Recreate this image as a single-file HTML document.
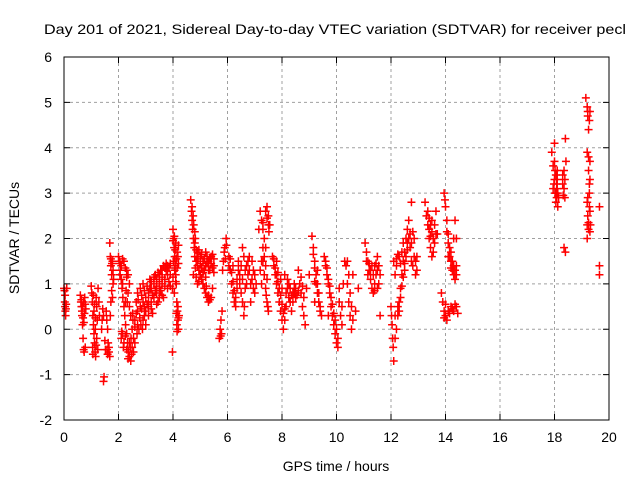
<!DOCTYPE html>
<html><head><meta charset="utf-8"><style>
html,body{margin:0;padding:0;background:#fff;}
svg{display:block;font-family:"Liberation Sans",sans-serif;}
</style></head><body>
<svg id="chart" width="640" height="480" viewBox="0 0 640 480" xmlns="http://www.w3.org/2000/svg">
<text x="44" y="34" font-size="14" fill="#000" textLength="582" lengthAdjust="spacingAndGlyphs">Day 201 of 2021, Sidereal Day-to-day VTEC variation (SDTVAR) for receiver pecl</text>
<g id="grid"></g>
<g id="ticks"></g>
<g id="marks"></g>
<rect x="64" y="57" width="545" height="363" fill="none" stroke="#000" stroke-width="1"/>
<text x="336" y="471" font-size="14" text-anchor="middle">GPS time / hours</text>
<text x="0" y="0" font-size="14" text-anchor="middle" transform="translate(19,238) rotate(-90)">SDTVAR / TECUs</text>
</svg>
<script>
const xTicks = [0,2,4,6,8,10,12,14,16,18,20];
const yTicks = [-2,-1,0,1,2,3,4,5,6];
const segA = [[0,0.9],[0.02,0.85],[0.03,0.6],[0.04,0.5],[0.05,0.4],[0.06,0.3],[0.08,0.55],[0.1,0.9],[0.04,0.75],[0.07,0.45]];
const segB = [[0.6,0.75],[0.62,0.6],[0.64,0.5],[0.66,0.3],[0.68,0.1],[0.7,-0.2],[0.72,-0.45],[0.74,-0.5],[0.76,0.7],[0.78,0.55],[0.8,0.45],[0.7,0.25],[0.66,0.4],[0.64,0.65],[0.72,0.6],[0.75,0.35],[0.68,0.5],[0.78,-0.4],[0.73,0.15]];
const segC = [[1.0,0.95],[1.02,0.8],[1.04,0.6],[1.06,0.3],[1.08,0.1],[1.1,-0.1],[1.12,-0.3],[1.14,-0.5],[1.16,-0.6],[1.2,0.5],[1.22,0.2],[1.25,0.9],[1.1,0.4],[1.15,0.0],[1.05,-0.4],[1.18,0.7],[1.28,0.6],[1.3,0.3],[1.08,0.75],[1.12,0.55],[1.15,0.25],[1.2,-0.2],[1.24,-0.45],[1.06,-0.55],[1.18,-0.35]];
const segD = [[1.45,-1.15],[1.47,-1.05],[1.4,0.2],[1.42,0.45],[1.38,0.0],[1.45,0.3],[1.5,-0.25],[1.52,-0.45]];
const segE = [[1.55,0.4],[1.57,0.2],[1.6,0.0],[1.62,-0.3],[1.65,-0.5],[1.68,-0.6],[1.7,0.3],[1.72,0.6],[1.68,1.9],[1.7,1.6],[1.72,1.4],[1.75,1.2],[1.78,1.5],[1.8,1.3],[1.82,1.1],[1.58,-0.45],[1.75,0.85],[1.72,1.55],[1.76,1.45],[1.8,1.0],[1.78,0.7],[1.65,-0.4],[1.6,-0.55]];
const segF = [[2.0,1.6],[2.03,1.5],[2.06,1.3],[2.1,1.1],[2.13,0.9],[2.16,0.7],[2.2,0.5],[2.23,0.3],[2.26,0.1],[2.3,-0.1],[2.33,-0.3],[2.36,-0.5],[2.4,-0.6],[2.43,-0.4],[2.46,-0.2],[2.5,0.0],[2.53,0.2],[2.1,1.4],[2.2,1.5],[2.3,1.3],[2.35,0.8],[2.25,0.6],[2.15,-0.1],[2.2,-0.3],[2.45,-0.7],[2.55,-0.5],[2.6,-0.3],[2.1,-0.2],
  [2.05,1.45],[2.15,1.55],[2.25,1.35],[2.3,1.15],[2.4,1.0],[2.35,1.2],[2.05,1.2],[2.15,1.0],[2.28,0.85],[2.32,0.6],[2.4,0.5],[2.45,0.3],[2.25,-0.15],[2.3,-0.45],[2.35,-0.65],[2.4,-0.3],[2.5,-0.4],[2.55,-0.2],[2.48,-0.55],[2.12,-0.05],[2.18,-0.4],[2.6,0.05],[2.52,0.35]];
const segG = [[2.6,0.2],[2.7,0.4],[2.8,0.5],[2.9,0.6],[3.0,0.7],[3.1,0.8],[3.2,0.9],[3.3,1.0],[3.4,1.1],[3.5,1.2],[3.6,1.3],[3.7,1.35],[3.8,1.4],[3.9,1.45],[2.7,0.8],[2.8,0.9],[2.9,1.0],[3.0,0.4],[3.1,0.3],[3.2,0.6],[3.3,0.7],[3.4,0.8],[3.5,0.9],[3.6,1.0],[3.7,1.1],[3.8,0.9],[3.9,1.2],[2.9,0.2],[3.0,0.1],[2.75,0.0],[3.15,1.1],[3.45,0.6],[3.65,0.7],[3.75,1.3],[2.65,0.6],[3.25,0.35],
  [2.65,0.35],[2.72,0.65],[2.78,0.25],[2.85,0.75],[2.85,0.45],[2.95,0.85],[2.95,0.5],[3.05,0.95],[3.05,0.55],[3.1,0.6],[3.15,0.9],[3.2,1.05],[3.25,0.75],[3.3,1.15],[3.35,0.85],[3.35,1.2],[3.4,0.95],[3.45,1.25],[3.5,1.05],[3.55,1.3],[3.55,0.85],[3.6,1.15],[3.65,1.4],[3.7,0.95],[3.75,1.45],[3.8,1.2],[3.85,1.35],[3.85,1.05],[3.9,0.95],[3.6,0.75],[3.5,0.7],[3.4,0.55],[3.2,0.45],[3.1,0.5],[2.95,0.3],[2.82,0.1],[2.7,0.1],[2.88,0.0],[2.68,-0.1]];
const segH = [[4.0,2.2],[4.02,2.0],[4.04,1.8],[4.06,1.6],[4.08,1.4],[4.1,1.2],[4.12,1.0],[4.14,0.6],[4.16,0.4],[4.18,0.2],[4.2,0.0],[3.98,-0.5],[4.1,1.9],[4.15,1.7],[4.2,1.85],[4.22,0.3],[4.05,0.8],
  [4.0,1.95],[4.05,2.05],[4.08,1.75],[4.12,1.55],[4.15,1.35],[4.18,1.6],[4.2,1.45],[4.02,1.5],[4.06,1.3],[4.1,1.05],[4.14,0.1],[4.18,0.5],[4.2,0.25],[4.15,-0.05],[4.12,0.35],[3.98,0.9],[4.0,1.15]];
const segI = [[4.65,2.85],[4.68,2.6],[4.7,2.4],[4.72,2.2],[4.75,2.0],[4.78,1.8],[4.8,1.6],[4.85,1.5],[4.9,1.4],[4.95,1.3],[5.0,1.2],[5.05,1.1],[5.1,1.0],[5.15,0.9],[5.2,0.8],[5.25,0.7],[5.3,0.6],[4.8,1.9],[4.9,1.7],[5.0,1.6],[5.1,1.5],[5.2,1.4],[5.3,1.5],[5.4,1.6],[5.5,1.4],[5.35,1.3],[4.75,1.2],[4.9,1.0],[5.2,1.7],[5.45,0.9],[5.4,0.7],
  [4.7,2.7],[4.74,2.5],[4.76,2.3],[4.8,2.15],[4.82,2.0],[4.85,1.75],[4.88,1.6],[4.92,1.55],[4.95,1.75],[5.0,1.45],[5.05,1.65],[5.05,1.35],[5.1,1.25],[5.15,1.55],[5.15,1.3],[5.2,1.15],[5.25,1.45],[5.25,1.6],[5.3,1.3],[5.35,1.55],[5.4,1.45],[5.45,1.65],[5.5,1.55],[5.5,1.25],[5.45,1.35],[4.82,1.35],[4.85,1.15],[4.95,1.05],[5.3,0.75],[5.35,0.65],[5.22,0.95]];
const segJ = [[5.7,-0.2],[5.73,0.0],[5.76,0.2],[5.8,0.4],[5.85,1.5],[5.9,1.8],[5.95,2.0],[5.88,1.7],[5.82,1.3],[5.78,-0.1],[5.75,-0.15],[5.92,1.55],[5.96,1.85]];
const segK = [[6.05,1.6],[6.1,1.3],[6.15,1.0],[6.2,0.8],[6.25,0.6],[6.3,0.5],[6.4,1.5],[6.45,1.2],[6.5,0.8],[6.55,1.8],[6.6,0.3],[6.65,0.9],[6.7,1.4],[6.8,1.6],[6.9,1.1],[7.0,0.8],[6.35,0.9],[6.75,1.2],[6.95,1.3],[6.2,1.4],[6.85,0.6],
  [6.05,1.4],[6.1,1.55],[6.15,1.25],[6.2,1.05],[6.25,0.85],[6.3,0.7],[6.35,1.1],[6.4,1.3],[6.45,1.0],[6.5,1.4],[6.55,1.1],[6.6,1.6],[6.65,1.3],[6.7,1.0],[6.75,1.5],[6.8,1.3],[6.85,1.0],[6.9,1.5],[6.95,0.9],[7.0,1.2],[7.05,1.0],[6.55,0.6],[6.62,0.5]];
const segL = [[7.2,2.6],[7.25,2.4],[7.3,2.2],[7.35,2.0],[7.4,1.8],[7.3,1.5],[7.35,1.2],[7.4,0.9],[7.45,0.6],[7.5,0.4],[7.45,2.7],[7.5,2.5],[7.55,2.3],[7.25,1.0],[7.15,2.2],
  [7.4,2.6],[7.45,2.45],[7.5,2.3],[7.52,2.15],[7.3,2.35],[7.35,1.6],[7.4,1.4],[7.45,1.1],[7.42,0.75],[7.48,0.5],[7.3,1.8],[7.2,1.3],[7.25,1.5]];
const segM = [[7.65,1.6],[7.7,1.4],[7.75,1.2],[7.8,1.0],[7.85,0.8],[7.9,0.6],[7.95,0.4],[8.0,0.2],[8.05,0.0],[8.1,1.2],[8.2,0.9],[8.3,0.6],[8.4,0.8],[8.5,0.7],[7.8,1.5],[7.95,1.1],[8.15,0.5],[8.25,1.0],[8.35,0.4],[8.45,1.0],
  [7.7,1.55],[7.75,1.35],[7.8,1.2],[7.85,1.05],[7.9,0.9],[7.95,0.75],[8.0,0.55],[8.05,0.35],[8.1,0.2],[8.15,0.8],[8.2,1.1],[8.25,0.7],[8.3,0.9],[8.35,0.75],[8.4,0.6],[8.45,0.8],[8.5,0.9],[8.55,0.75],[8.6,0.85],[8.0,0.9],[7.85,1.25],[8.1,0.45]];
const segN = [[8.6,1.3],[8.65,1.0],[8.7,0.8],[8.75,0.5],[8.8,0.3],[8.85,0.1],[9.1,2.05],[9.15,1.8],[9.2,1.5],[9.25,1.2],[9.3,1.0],[9.35,0.8],[9.4,0.5],[9.45,0.3],[8.9,0.9],[9.0,1.2],[9.2,0.6],
  [8.7,1.15],[8.75,0.95],[8.8,0.7],[9.15,1.65],[9.2,1.35],[9.25,1.0],[9.3,0.8],[9.35,0.6],[9.4,0.4],[9.3,1.3],[9.2,1.05]];
const segO = [[9.55,1.6],[9.6,1.4],[9.65,1.2],[9.7,1.0],[9.75,0.8],[9.8,0.5],[9.85,0.3],[9.9,0.1],[9.95,-0.1],[10.0,-0.3],[10.05,-0.4],[10.3,1.5],[10.35,1.4],[10.4,1.0],[10.45,0.6],[10.5,0.3],[10.55,0.0],[10.6,1.2],[10.7,0.4],[10.1,0.9],[10.2,0.5],[9.7,0.3],[10.25,1.0],[10.8,0.9],
  [9.6,1.5],[9.65,1.35],[9.7,1.1],[9.75,0.95],[9.8,0.7],[9.85,0.55],[9.9,0.35],[9.95,0.2],[10.0,0.0],[10.05,-0.2],[10.4,1.5],[10.45,1.2],[10.5,0.8],[10.55,0.5],[10.6,0.2],[10.1,0.6],[10.15,0.3],[10.2,0.1]];
const segP = [[11.05,1.9],[11.1,1.7],[11.15,1.5],[11.2,1.3],[11.25,1.1],[11.3,0.9],[11.35,0.8],[11.4,1.4],[11.5,1.6],[11.6,0.3],[11.45,1.2],[11.3,1.4],[11.55,1.0],
  [11.1,1.5],[11.15,1.2],[11.2,1.45],[11.25,1.3],[11.35,1.2],[11.4,1.0],[11.45,1.45],[11.5,1.3],[11.55,1.4],[11.6,1.2],[11.4,0.85],[11.5,0.9]];
const segQ = [[12.0,0.5],[12.02,0.3],[12.04,0.1],[12.06,-0.2],[12.08,-0.4],[12.1,-0.7],[12.15,-0.2],[12.2,0.0],[12.25,0.3],[12.3,0.6],[12.35,0.9],[12.4,1.2],[12.45,1.5],[12.5,1.7],[12.55,2.0],[12.6,2.2],[12.7,1.8],[12.8,1.4],[12.9,1.5],[12.95,1.6],[12.65,2.4],[12.75,2.8],[12.1,1.5],[12.2,1.4],[12.3,1.6],[12.4,1.7],[12.5,1.3],[12.6,1.9],[12.85,2.0],[12.9,1.2],[12.15,1.2],
  [12.25,0.5],[12.3,0.4],[12.35,0.7],[12.4,0.95],[12.45,1.15],[12.5,1.45],[12.55,1.6],[12.6,1.75],[12.65,2.0],[12.7,2.1],[12.75,1.9],[12.8,2.15],[12.85,1.6],[12.2,1.55],[12.25,1.65],[12.35,1.45],[12.45,1.9],[12.75,1.5],[12.95,1.3],[12.15,0.3]];
const segR = [[13.25,2.8],[13.3,2.5],[13.35,2.3],[13.4,2.0],[13.45,1.8],[13.5,1.6],[13.55,1.7],[13.6,2.3],[13.65,2.6],[13.95,3.0],[14.0,2.7],[14.05,2.4],[14.1,2.1],[14.15,1.8],[14.2,1.5],[14.25,1.3],[14.3,1.2],[14.35,1.1],[13.4,2.2],[13.5,2.4],[13.7,2.1],[14.3,2.0],[14.4,1.4],[14.1,1.6],
  [13.35,2.6],[13.4,2.45],[13.45,2.3],[13.5,2.15],[13.55,2.0],[13.6,1.9],[13.65,2.1],[13.45,2.05],[14.05,2.15],[14.1,1.9],[14.15,1.6],[14.2,1.35],[14.25,1.5],[14.3,1.4],[14.35,1.3],[14.4,1.2],[14.2,1.7],[13.98,2.85]];
const segS = [[13.85,0.8],[13.9,0.6],[13.95,0.4],[14.0,0.3],[14.05,0.2],[14.2,0.5],[14.3,0.4],[14.35,2.4],[14.4,2.0],[14.4,0.5],[14.45,0.35],[14.1,0.4],[14.0,0.55],[14.15,0.35],[14.25,0.45],[14.35,0.55],[13.95,0.25]];
const segT = [[17.9,3.9],[17.95,3.6],[18.0,3.3],[18.02,3.0],[18.05,2.8],[18.08,3.2],[18.1,3.5],[18.0,4.1],[18.1,3.1],[18.15,2.9],[18.35,3.5],[18.4,4.2],[18.35,1.8],[18.4,1.7],[18.3,3.2],[18.38,2.9],[18.42,3.7],[17.95,3.1],[18.05,3.4],[18.12,2.7],
  [17.98,3.2],[18.02,3.5],[18.05,3.0],[18.08,2.9],[18.1,3.3],[18.12,3.0],[18.0,3.7],[18.3,3.4],[18.35,3.1],[18.32,2.95],[18.38,3.3]];
const segU = [[19.15,5.1],[19.2,4.9],[19.22,4.7],[19.25,4.4],[19.2,3.9],[19.25,3.5],[19.28,3.2],[19.2,2.8],[19.22,2.5],[19.25,2.2],[19.3,2.6],[19.28,3.0],[19.2,2.0],[19.3,4.8],[19.3,3.7],[19.32,2.3],
  [19.22,4.8],[19.28,4.6],[19.25,3.8],[19.3,3.3],[19.22,2.9],[19.28,2.7],[19.25,2.35],[19.3,2.15],[19.2,2.3]];
const segV = [[19.65,2.7],[19.65,1.4],[19.65,1.2]];
const series = [segA,segB,segC,segD,segE,segF,segG,segH,segI,segJ,segK,segL,segM,segN,segO,segP,segQ,segR,segS,segT,segU,segV];

const L=64,R=609,T=57,B=420;
const xs=t=>L+(t-0)/(20-0)*(R-L);
const ys=v=>B-(v+2)/(6+2)*(B-T);
const NS='http://www.w3.org/2000/svg';
const grid=document.getElementById('grid'),ticks=document.getElementById('ticks'),marks=document.getElementById('marks');
function mk(tag,attrs,parent){const e=document.createElementNS(NS,tag);for(const k in attrs)e.setAttribute(k,attrs[k]);parent.appendChild(e);return e;}
xTicks.forEach(t=>{
  const x=xs(t);
  if(t>0&&t<20){const g=mk('line',{x1:x,y1:T,x2:x,y2:B,stroke:'#a0a0a0','stroke-dasharray':'3,3'},grid);
  
  }
  mk('line',{x1:x,y1:B,x2:x,y2:B-6,stroke:'#000'},ticks);
  mk('line',{x1:x,y1:T,x2:x,y2:T+6,stroke:'#000'},ticks);
  const l=mk('text',{x:x,y:442,'font-size':14,'text-anchor':'middle'},ticks);
  l.textContent=t;
  
  
});
yTicks.forEach(v=>{
  const y=ys(v);
  if(v>-2&&v<6){const g=mk('line',{x1:L,y1:y,x2:R,y2:y,stroke:'#a0a0a0','stroke-dasharray':'3,3'},grid);
  
  }
  mk('line',{x1:L,y1:y,x2:L+6,y2:y,stroke:'#000'},ticks);
  mk('line',{x1:R,y1:y,x2:R-6,y2:y,stroke:'#000'},ticks);
  const l=mk('text',{x:52,y:y+5,'font-size':14,'text-anchor':'end'},ticks);
  l.textContent=v;
  
  
});
series.forEach(seg=>seg.forEach(p=>{
  const x=xs(p[0]),y=ys(p[1]);
  const m=mk('path',{d:`M${x-4},${y}H${x+4}M${x},${y-4}V${y+4}`,stroke:'#ff0000','stroke-width':1.5,fill:'none'},marks);
  
  
}));
</script>
</body></html>
